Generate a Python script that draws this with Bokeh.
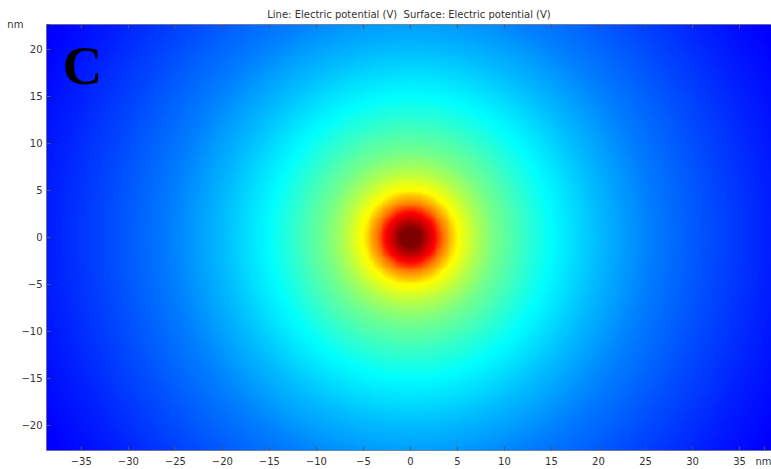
import numpy as np
from bokeh.plotting import figure
from bokeh.models import LinearColorMapper, FixedTicker, Range1d, Label
from bokeh.embed import file_html
from bokeh.resources import INLINE

# Radial profile of the electric potential (normalised, 0..1) versus distance
# from the charge centre in nm
r_nm = [0.0, 1.0, 1.5, 2.0, 2.6, 3.5, 5.0, 7.0, 9.0, 12.5, 15.0, 20.0, 25.5,
        32.0, 38.5, 45.0]
potential = [1.0, 1.0, 0.96, 0.92, 0.875, 0.76, 0.63, 0.55, 0.49, 0.42,
             0.375, 0.31, 0.25, 0.20, 0.155, 0.12]

x_ticks = [-35, -30, -25, -20, -15, -10, -5, 0, 5, 10, 15, 20, 25, 30, 35]
y_ticks = [-20, -15, -10, -5, 0, 5, 10, 15, 20]

x_lo, x_hi = -38.7, 38.4
y_lo, y_hi = -22.6, 22.6

# positions of the "nm" unit captions at the ends of the axes
x_unit_pos = 37.7
y_unit_pos = y_hi


def jet_palette(n=256):
    t = np.linspace(0, 1, n)
    r = np.clip(1.5 - np.abs(4 * t - 3), 0, 1)
    g = np.clip(1.5 - np.abs(4 * t - 2), 0, 1)
    b = np.clip(1.5 - np.abs(4 * t - 1), 0, 1)
    return ["#%02x%02x%02x" % (int(rr * 255), int(gg * 255), int(bb * 255))
            for rr, gg, bb in zip(r, g, b)]


# surface raster built from the radial profile
nx, ny = 780, 460
xs = np.linspace(x_lo, x_hi, nx)
ys = np.linspace(y_lo, y_hi, ny)
X, Y = np.meshgrid(xs, ys)
R = np.hypot(X, Y)
V = np.interp(R, r_nm, potential)

mapper = LinearColorMapper(palette=jet_palette(), low=0.0, high=1.0)

p = figure(width=771, height=469, output_backend="svg", toolbar_location=None,
           x_range=Range1d(x_lo, x_hi), y_range=Range1d(y_lo, y_hi),
           min_border_left=46, min_border_right=0, min_border_top=24,
           min_border_bottom=19)

p.image(image=[V], x=x_lo, y=y_lo, dw=x_hi - x_lo, dh=y_hi - y_lo,
        color_mapper=mapper)

# inward tick marks along the top edge of the frame
p.ray(x=x_ticks, y=[y_hi] * len(x_ticks), length=4, length_units="screen",
      angle=-np.pi / 2, line_color="#555555", line_width=1)

p.title.text = "Line: Electric potential (V) \u00a0Surface: Electric potential (V)"
p.title.align = "center"
p.title.text_font = "DejaVu Sans"
p.title.text_font_size = "10px"
p.title.text_font_style = "normal"
p.title.text_color = "#333333"
p.title.standoff = 9
p.title.offset = 0

p.xgrid.visible = False
p.ygrid.visible = False
p.outline_line_color = "#8a8a8a"
p.outline_line_width = 1
p.background_fill_color = "white"
p.border_fill_color = "white"

for ax in (p.xaxis[0], p.yaxis[0]):
    ax.major_tick_in = 4
    ax.major_tick_out = 0
    ax.minor_tick_line_color = None
    ax.axis_line_color = None
    ax.major_tick_line_color = "#555555"
    ax.major_label_text_font = "DejaVu Sans"
    ax.major_label_text_font_size = "10px"
    ax.major_label_text_color = "#333333"
    ax.major_label_standoff = 5

# the unit captions sit in the tick-label rows
p.xaxis[0].ticker = FixedTicker(ticks=x_ticks + [x_unit_pos])
p.xaxis[0].major_label_overrides = {x_unit_pos: "nm"}
p.yaxis[0].ticker = FixedTicker(ticks=y_ticks + [y_unit_pos])
p.yaxis[0].major_label_overrides = {y_unit_pos: "nm" + "\u00a0" * 6}
p.yaxis[0].major_label_standoff = 4

# panel letter
p.add_layout(Label(x=-37.0, y=18.2, text="C", text_font="Liberation Serif",
                   text_font_style="bold", text_font_size="55px",
                   text_color="black", text_baseline="alphabetic"))

open("out.html", "w").write(file_html(p, INLINE))
